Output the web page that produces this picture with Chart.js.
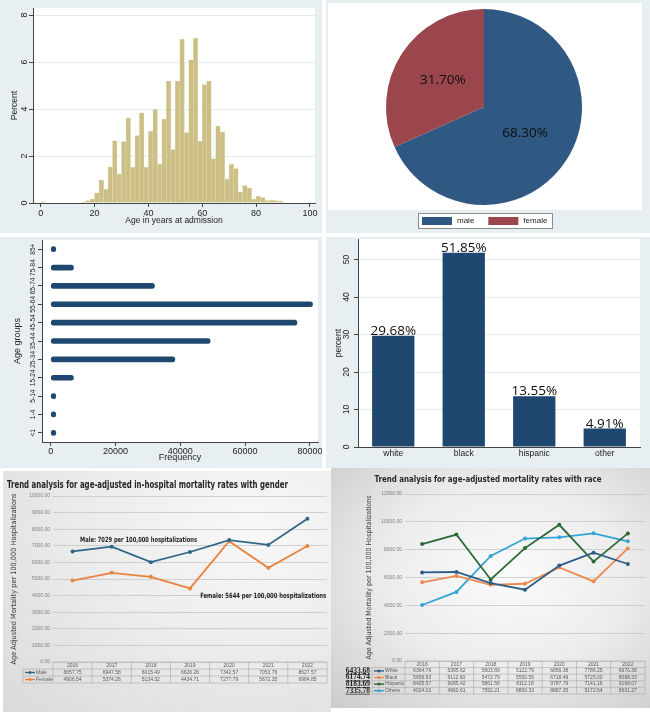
<!DOCTYPE html>
<html>
<head>
<meta charset="utf-8">
<title>Hospitalization figures</title>
<script src="https://cdn.jsdelivr.net/npm/chart.js@4.4.1/dist/chart.umd.min.js"></script>
<style>
  html, body { margin: 0; padding: 0; background: #fff; }
  body { width: 650px; height: 712px; position: relative; overflow: hidden; }
  .panel { position: absolute; overflow: hidden; }
  .panel canvas { display: block; }
  .stata { background: #e8eff2; }
  #genderPanel { background: radial-gradient(ellipse at 75% 25%, #f8f8f8 0%, #ebebeb 50%, #dadada 100%); }
  #racePanel { background: radial-gradient(ellipse at 55% 45%, #fbfbfb 0%, #ececec 50%, #cbcbcb 100%); }
</style>
</head>
<body>
<div class="panel stata" style="left:0;top:0;width:322px;height:233px"><canvas id="histChart" width="322" height="233"></canvas></div>
<div class="panel stata" style="left:326px;top:0;width:324px;height:233px"><canvas id="genderPie" width="324" height="233"></canvas></div>
<div class="panel stata" style="left:0;top:237px;width:322px;height:231px"><canvas id="ageGroupChart" width="322" height="231"></canvas></div>
<div class="panel stata" style="left:326px;top:237px;width:324px;height:231px"><canvas id="raceChart" width="324" height="231"></canvas></div>
<div class="panel" id="genderPanel" style="left:3px;top:471px;width:328px;height:241px"><canvas id="genderTrend" width="328" height="241"></canvas></div>
<div class="panel" id="racePanel" style="left:331px;top:468px;width:319px;height:240px"><canvas id="raceTrend" width="319" height="240"></canvas></div>

<script>
// histogram of age at admission (percent per bin, bins of 5/3 years from 0)
const ageBinWidth = 5 / 3;
const ageBinPercent = [0.05, 0, 0, 0, 0, 0, 0, 0, 0, 0.03, 0.1, 0.17, 0.43, 0.98, 0.58, 1.53, 2.65, 1.23,
  2.61, 3.63, 1.52, 2.87, 3.84, 1.52, 3.05, 3.99, 1.66, 3.57, 5.19, 2.27, 5.19, 6.98, 3.0, 6.09, 7.01, 2.63,
  5.04, 5.19, 1.89, 3.27, 3.03, 1.02, 1.65, 1.47, 0.46, 0.74, 0.64, 0.17, 0.28, 0.23, 0.1, 0.11, 0.1, 0.07];
const histXTicks = [0, 20, 40, 60, 80, 100];
const histYTicks = [0, 2, 4, 6, 8];

const genderLabels = ['male', 'female'];
const genderPercent = [68.30, 31.70];

const ageGroups = ['<1', '1-4', '5-14', '15-24', '25-34', '35-44', '45-54', '55-64', '65-74', '75-84', '85+'];
const ageGroupFreq = [200, 200, 200, 7000, 38300, 49200, 76000, 80800, 32000, 7000, 1200];
const freqTicks = [0, 20000, 40000, 60000, 80000];

const raceGroups = ['white', 'black', 'hispanic', 'other'];
const racePercent = [29.68, 51.85, 13.55, 4.91];
const raceTicks = [0, 10, 20, 30, 40, 50];

const trendYears = ['2016', '2017', '2018', '2019', '2020', '2021', '2022'];
const maleRate = [6657.75, 6947.58, 6015.49, 6626.26, 7342.57, 7053.76, 8627.57];
const femaleRate = [4906.54, 5374.26, 5134.32, 4434.71, 7277.79, 5672.35, 6984.85];
const whiteRate = [6364.76, 6395.62, 5603.89, 5122.79, 6856.38, 7786.25, 6970.38];
const blackRate = [5656.93, 6112.60, 5472.79, 5550.55, 6718.49, 5725.00, 8088.33];
const hispanicRate = [8405.57, 9085.42, 5861.56, 8112.18, 9787.79, 7141.16, 9168.07];
const othersRate = [4024.02, 4960.61, 7550.21, 8800.33, 8887.35, 9172.64, 8601.27];
const raceMeans = ['6433.68', '6174.74', '8183.69', '7335.78'];

const SANS = "'Liberation Sans', Arial, sans-serif";
const NARROW = "'Liberation Sans Narrow', 'DejaVu Sans Condensed', 'Liberation Sans', sans-serif";
const NAVY = '#1f4870';
const AXIS = '#444';

Chart.defaults.animation = false;
Chart.defaults.responsive = false;
Chart.defaults.font.family = SANS;
Chart.defaults.color = '#1a1a1a';
Chart.defaults.plugins.legend.display = false;
Chart.defaults.plugins.tooltip.enabled = false;

const ticksAt = values => scale => { scale.ticks = values.map(value => ({ value })); };
const fixSize = size => scale => {
  if (scale.isHorizontal()) scale.height = size; else scale.width = size;
  scale.paddingLeft = scale.paddingRight = scale.paddingTop = scale.paddingBottom = 0;
};

// draw text squeezed horizontally to a given width (condensed excel fonts)
function squeezeText(ctx, text, x, y, width) {
  const sx = Math.min(1, width / ctx.measureText(text).width);
  ctx.save();
  ctx.translate(x, y);
  ctx.scale(sx, 1);
  ctx.fillText(text, 0, 0);
  ctx.restore();
}

// white plot region of the stata graphs
const plotRegion = {
  id: 'plotRegion',
  beforeDraw(chart, args, opts) {
    const { ctx, chartArea } = chart;
    ctx.save();
    ctx.fillStyle = '#fff';
    if (opts.rect) ctx.fillRect(opts.rect.x, opts.rect.y, opts.rect.w, opts.rect.h);
    else ctx.fillRect(chartArea.left, chartArea.top, chartArea.right - chartArea.left, chartArea.bottom - chartArea.top);
    ctx.restore();
  }
};

const barValueLabels = {
  id: 'barValueLabels',
  afterDatasetsDraw(chart, args, opts) {
    const { ctx } = chart;
    const values = chart.data.datasets[0].data;
    ctx.save();
    ctx.font = opts.font;
    ctx.fillStyle = opts.color;
    ctx.textAlign = 'center';
    ctx.textBaseline = 'alphabetic';
    chart.getDatasetMeta(0).data.forEach((bar, i) => {
      ctx.fillText(values[i].toFixed(2) + '%', bar.x, bar.y - 1);
    });
    ctx.restore();
  }
};

const sliceLabels = {
  id: 'sliceLabels',
  afterDatasetsDraw(chart, args, opts) {
    const { ctx } = chart;
    const values = chart.data.datasets[0].data;
    ctx.save();
    ctx.font = opts.font;
    ctx.fillStyle = opts.color;
    ctx.textAlign = 'center';
    ctx.textBaseline = 'middle';
    chart.getDatasetMeta(0).data.forEach((arc, i) => {
      const p = arc.getCenterPoint();
      ctx.fillText(values[i].toFixed(2) + '%', p.x, p.y);
    });
    ctx.restore();
  }
};

const boxedLegend = {
  id: 'boxedLegend',
  afterDraw(chart, args, opts) {
    const { ctx } = chart;
    const { x, y, w, h } = opts.box;
    const colors = chart.data.datasets[0].backgroundColor;
    ctx.save();
    ctx.fillStyle = '#fff';
    ctx.fillRect(x, y, w, h);
    ctx.strokeStyle = '#8c8c8c';
    ctx.lineWidth = 1;
    ctx.strokeRect(x + 0.5, y + 0.5, w, h);
    ctx.font = opts.font;
    ctx.textBaseline = 'middle';
    let cx = x + 4;
    chart.data.labels.forEach((label, i) => {
      ctx.fillStyle = colors[i];
      ctx.fillRect(cx, y + 4, opts.swatch, 8);
      cx += opts.swatch + 5;
      ctx.fillStyle = '#222';
      ctx.fillText(label, cx, y + h / 2 + 0.5);
      cx += ctx.measureText(label).width + opts.gap;
    });
    ctx.restore();
  }
};

const squeezedTitle = {
  id: 'squeezedTitle',
  afterDraw(chart, args, opts) {
    const { ctx } = chart;
    ctx.save();
    ctx.font = opts.font;
    ctx.fillStyle = opts.color;
    ctx.textAlign = opts.align;
    ctx.textBaseline = 'middle';
    squeezeText(ctx, opts.text, opts.x, opts.y, opts.width);
    ctx.restore();
  }
};

// excel style data table under the line charts
const excelTable = {
  id: 'excelTable',
  afterDraw(chart, args, opts) {
    const { ctx, chartArea: area } = chart;
    const years = chart.data.labels;
    const rows = chart.data.datasets;
    const colW = (area.right - area.left) / years.length;
    const rh = opts.rowHeight;
    const top = area.bottom;
    const bottom = top + rh * (rows.length + 1);
    const left = opts.legendLeft;
    ctx.save();
    ctx.lineWidth = 0.6;
    ctx.strokeStyle = opts.lineColor;
    ctx.beginPath();
    ctx.moveTo(area.left, top); ctx.lineTo(area.right, top);
    for (let r = 1; r <= rows.length + 1; r++) {
      ctx.moveTo(left, top + r * rh); ctx.lineTo(area.right, top + r * rh);
    }
    ctx.moveTo(left, top + rh); ctx.lineTo(left, bottom);
    for (let c = 0; c <= years.length; c++) {
      const x = area.left + c * colW;
      ctx.moveTo(x, top); ctx.lineTo(x, bottom);
    }
    ctx.stroke();

    ctx.font = opts.font;
    ctx.textBaseline = 'middle';
    ctx.textAlign = 'center';
    ctx.fillStyle = opts.textColor;
    years.forEach((year, c) => ctx.fillText(year, area.left + (c + 0.5) * colW, top + rh / 2));
    rows.forEach((ds, r) => {
      const cy = top + (r + 1.5) * rh;
      ctx.textAlign = 'center';
      ctx.fillStyle = opts.textColor;
      ds.data.forEach((v, c) => ctx.fillText(v.toFixed(2), area.left + (c + 0.5) * colW, cy));
      ctx.strokeStyle = ds.borderColor;
      ctx.lineWidth = 1.4;
      ctx.beginPath(); ctx.moveTo(left + 2, cy); ctx.lineTo(left + 12, cy); ctx.stroke();
      ctx.fillStyle = ds.borderColor;
      ctx.beginPath(); ctx.arc(left + 7, cy, 1.5, 0, Math.PI * 2); ctx.fill();
      ctx.fillStyle = opts.textColor;
      ctx.textAlign = 'left';
      ctx.fillText(ds.label, left + 13, cy);
    });

    if (opts.sideNotes) {
      ctx.font = opts.sideFont;
      ctx.textAlign = 'right';
      ctx.fillStyle = '#1e1e1e';
      ctx.strokeStyle = '#1e1e1e';
      ctx.lineWidth = 0.7;
      opts.sideNotes.forEach((note, r) => {
        const cy = top + (r + 1.5) * rh;
        const w = ctx.measureText(note).width;
        ctx.fillText(note, left - 2, cy);
        ctx.beginPath(); ctx.moveTo(left - 2 - w, cy + 3.5); ctx.lineTo(left - 2, cy + 3.5); ctx.stroke();
      });
    }
    ctx.restore();
  }
};

const lineNotes = {
  id: 'lineNotes',
  afterDatasetsDraw(chart, args, opts) {
    const { ctx, scales: { x, y } } = chart;
    ctx.save();
    ctx.font = opts.font;
    ctx.fillStyle = opts.color;
    ctx.textBaseline = 'middle';
    ctx.textAlign = 'left';
    opts.items.forEach(item => {
      squeezeText(ctx, item.text, x.getPixelForValue(item.at), y.getPixelForValue(item.value), item.width);
    });
    ctx.restore();
  }
};

const stataTicks = size => ({ font: { size }, color: '#222' });

// histogram
new Chart(document.getElementById('histChart'), {
  type: 'bar',
  data: {
    datasets: [{
      data: ageBinPercent.map((p, i) => ({ x: (i + 0.5) * ageBinWidth, y: p })),
      backgroundColor: '#cbbf86',
      borderColor: '#e2dbb6',
      borderWidth: 0.5,
      barPercentage: 1,
      categoryPercentage: 1
    }]
  },
  options: {
    devicePixelRatio: 1,
    layout: { padding: { left: 0, top: 8, right: 7, bottom: 0 } },
    scales: {
      x: {
        type: 'linear', min: -2.9, max: 101.9, offset: false,
        afterBuildTicks: ticksAt(histXTicks), afterFit: fixSize(30),
        grid: { offset: false, drawOnChartArea: false, tickLength: 4, tickColor: AXIS },
        border: { color: AXIS },
        ticks: { ...stataTicks(9), padding: 1, maxRotation: 0 },
        title: { display: true, text: 'Age in years at admission', font: { size: 8.5 }, color: '#222', padding: { top: 0, bottom: 7 } }
      },
      y: {
        min: 0, max: 8.3,
        afterBuildTicks: ticksAt(histYTicks), afterFit: fixSize(33),
        grid: { color: '#e5ecef', tickLength: 4, tickColor: AXIS },
        border: { color: AXIS },
        ticks: { ...stataTicks(9), minRotation: 90, maxRotation: 90, crossAlign: 'center', padding: 1.5 },
        title: { display: true, text: 'Percent', font: { size: 8.5 }, color: '#222', padding: { top: 10, bottom: 0 } }
      }
    },
    plugins: { plotRegion: {} }
  },
  plugins: [plotRegion]
});

// gender pie
new Chart(document.getElementById('genderPie'), {
  type: 'pie',
  data: {
    labels: genderLabels,
    datasets: [{ data: genderPercent, backgroundColor: ['#2f5883', '#9b464c'], borderWidth: 0 }]
  },
  options: {
    devicePixelRatio: 1,
    layout: { padding: { left: 60, right: 68, top: 9, bottom: 28 } },
    plugins: {
      plotRegion: { rect: { x: 2, y: 3, w: 314, h: 207 } },
      sliceLabels: { font: "500 13.5px 'Open Sans', sans-serif", color: '#0d0d0d' },
      boxedLegend: { box: { x: 92, y: 213, w: 134, h: 15 }, swatch: 30, gap: 14, font: '8px ' + SANS }
    }
  },
  plugins: [plotRegion, sliceLabels, boxedLegend]
});

// age groups
new Chart(document.getElementById('ageGroupChart'), {
  type: 'bar',
  data: {
    labels: ageGroups,
    datasets: [{
      data: ageGroupFreq, backgroundColor: NAVY,
      barThickness: 5, borderRadius: 2.5, borderSkipped: false, minBarLength: 5
    }]
  },
  options: {
    devicePixelRatio: 1,
    indexAxis: 'y',
    layout: { padding: { left: 0, top: 3, right: 4, bottom: 0 } },
    scales: {
      x: {
        min: -2700, max: 82500,
        afterBuildTicks: ticksAt(freqTicks), afterFit: fixSize(26),
        grid: { drawOnChartArea: false, tickLength: 4, tickColor: AXIS },
        border: { color: AXIS },
        ticks: { ...stataTicks(9), padding: 0, callback: v => String(v) },
        title: { display: true, text: 'Frequency', font: { size: 9 }, color: '#222', padding: { top: 0, bottom: 5 } }
      },
      y: {
        reverse: true, afterFit: fixSize(42),
        grid: { offset: false, drawOnChartArea: false, tickLength: 4, tickColor: AXIS },
        border: { color: AXIS },
        ticks: { ...stataTicks(6.6), autoSkip: false, minRotation: 90, maxRotation: 90, crossAlign: 'center', padding: -3.5 },
        title: { display: true, text: 'Age groups', font: { size: 9 }, color: '#222', padding: { top: 12, bottom: 0 } }
      }
    },
    plugins: { plotRegion: {} }
  },
  plugins: [plotRegion]
});

// race distribution
new Chart(document.getElementById('raceChart'), {
  type: 'bar',
  data: {
    labels: raceGroups,
    datasets: [{ data: racePercent, backgroundColor: NAVY, barPercentage: 0.6, categoryPercentage: 1 }]
  },
  options: {
    devicePixelRatio: 1,
    layout: { padding: { left: 0, top: 2, right: 10, bottom: 0 } },
    scales: {
      x: {
        afterFit: fixSize(21),
        grid: { display: false, drawTicks: false },
        border: { color: AXIS },
        ticks: { ...stataTicks(8.5), padding: 2 }
      },
      y: {
        min: 0, max: 55.5,
        afterBuildTicks: ticksAt(raceTicks), afterFit: fixSize(32),
        grid: { color: '#e5ecef', tickLength: 4, tickColor: AXIS },
        border: { color: AXIS },
        ticks: { ...stataTicks(8.5), minRotation: 90, maxRotation: 90, crossAlign: 'center', padding: 2.3 },
        title: { display: true, text: 'percent', font: { size: 8.5 }, color: '#222', padding: { top: 8, bottom: 0 } }
      }
    },
    plugins: {
      plotRegion: {},
      barValueLabels: { font: "500 13.5px 'Open Sans', sans-serif", color: '#0d0d0d' }
    }
  },
  plugins: [plotRegion, barValueLabels]
});

const excelY = (max, step, width, titleSize) => ({
  min: 0, max,
  afterFit: fixSize(width),
  ticks: { stepSize: step, callback: v => v.toFixed(2), font: { size: 5 }, color: '#7f7f7f', padding: 3 },
  grid: { color: '#c2c2c2', lineWidth: 0.7, drawTicks: false },
  border: { display: false },
  title: {
    display: true, text: 'Age Adjusted Mortality per 100,000 Hospitalizations',
    font: { size: titleSize, family: NARROW }, color: '#404040', padding: { top: 4, bottom: 0 }
  }
});
const excelX = height => ({
  offset: true, afterFit: fixSize(height),
  grid: { display: false, drawTicks: false },
  border: { display: false },
  ticks: { display: false }
});
const excelLine = (label, data, color) => ({
  label, data, borderColor: color, backgroundColor: color,
  borderWidth: 1.8, pointRadius: 2, pointBorderWidth: 0, tension: 0
});

// gender trend
new Chart(document.getElementById('genderTrend'), {
  type: 'line',
  data: {
    labels: trendYears,
    datasets: [
      excelLine('Male', maleRate, '#2e6785'),
      excelLine('Female', femaleRate, '#e8843f')
    ]
  },
  options: {
    devicePixelRatio: 1,
    layout: { padding: { left: 3, top: 25, right: 4, bottom: 0 } },
    scales: { x: excelX(50), y: excelY(10000, 1000, 47, 7.3) },
    plugins: {
      squeezedTitle: {
        text: 'Trend analysis for age-adjusted in-hospital mortality rates with gender',
        font: 'bold 10.5px ' + NARROW, color: '#262626', align: 'left', x: 4, y: 14, width: 281
      },
      excelTable: { rowHeight: 7, legendLeft: 20, font: '5px ' + SANS, lineColor: '#a8a8a8', textColor: '#5a5a5a' },
      lineNotes: {
        font: 'bold 7.2px ' + NARROW, color: '#262626',
        items: [
          { text: 'Male: 7029 per 100,000 hospitalizations', at: 0.19, value: 7350, width: 117 },
          { text: 'Female: 5644 per 100,000 hospitalizations', at: 3.26, value: 3976, width: 126 }
        ]
      }
    }
  },
  plugins: [squeezedTitle, excelTable, lineNotes]
});

// race trend
new Chart(document.getElementById('raceTrend'), {
  type: 'line',
  data: {
    labels: trendYears,
    datasets: [
      excelLine('White', whiteRate, '#2d5e88'),
      excelLine('Black', blackRate, '#ec8a4e'),
      excelLine('Hispanic', hispanicRate, '#2b6a37'),
      excelLine('Others', othersRate, '#33a3d6')
    ]
  },
  options: {
    devicePixelRatio: 1,
    layout: { padding: { left: 30, top: 26, right: 5, bottom: 0 } },
    scales: { x: excelX(47), y: excelY(12000, 2000, 44, 7) },
    plugins: {
      squeezedTitle: {
        text: 'Trend analysis for age-adjusted mortality rates with race',
        font: 'bold 9.5px ' + NARROW, color: '#262626', align: 'center', x: 157, y: 12, width: 227
      },
      excelTable: {
        rowHeight: 6.6, legendLeft: 41, font: '5px ' + SANS, lineColor: '#a8a8a8', textColor: '#5a5a5a',
        sideNotes: raceMeans, sideFont: "bold 7.5px 'Liberation Serif', serif"
      }
    }
  },
  plugins: [squeezedTitle, excelTable]
});
</script>
</body>
</html>
